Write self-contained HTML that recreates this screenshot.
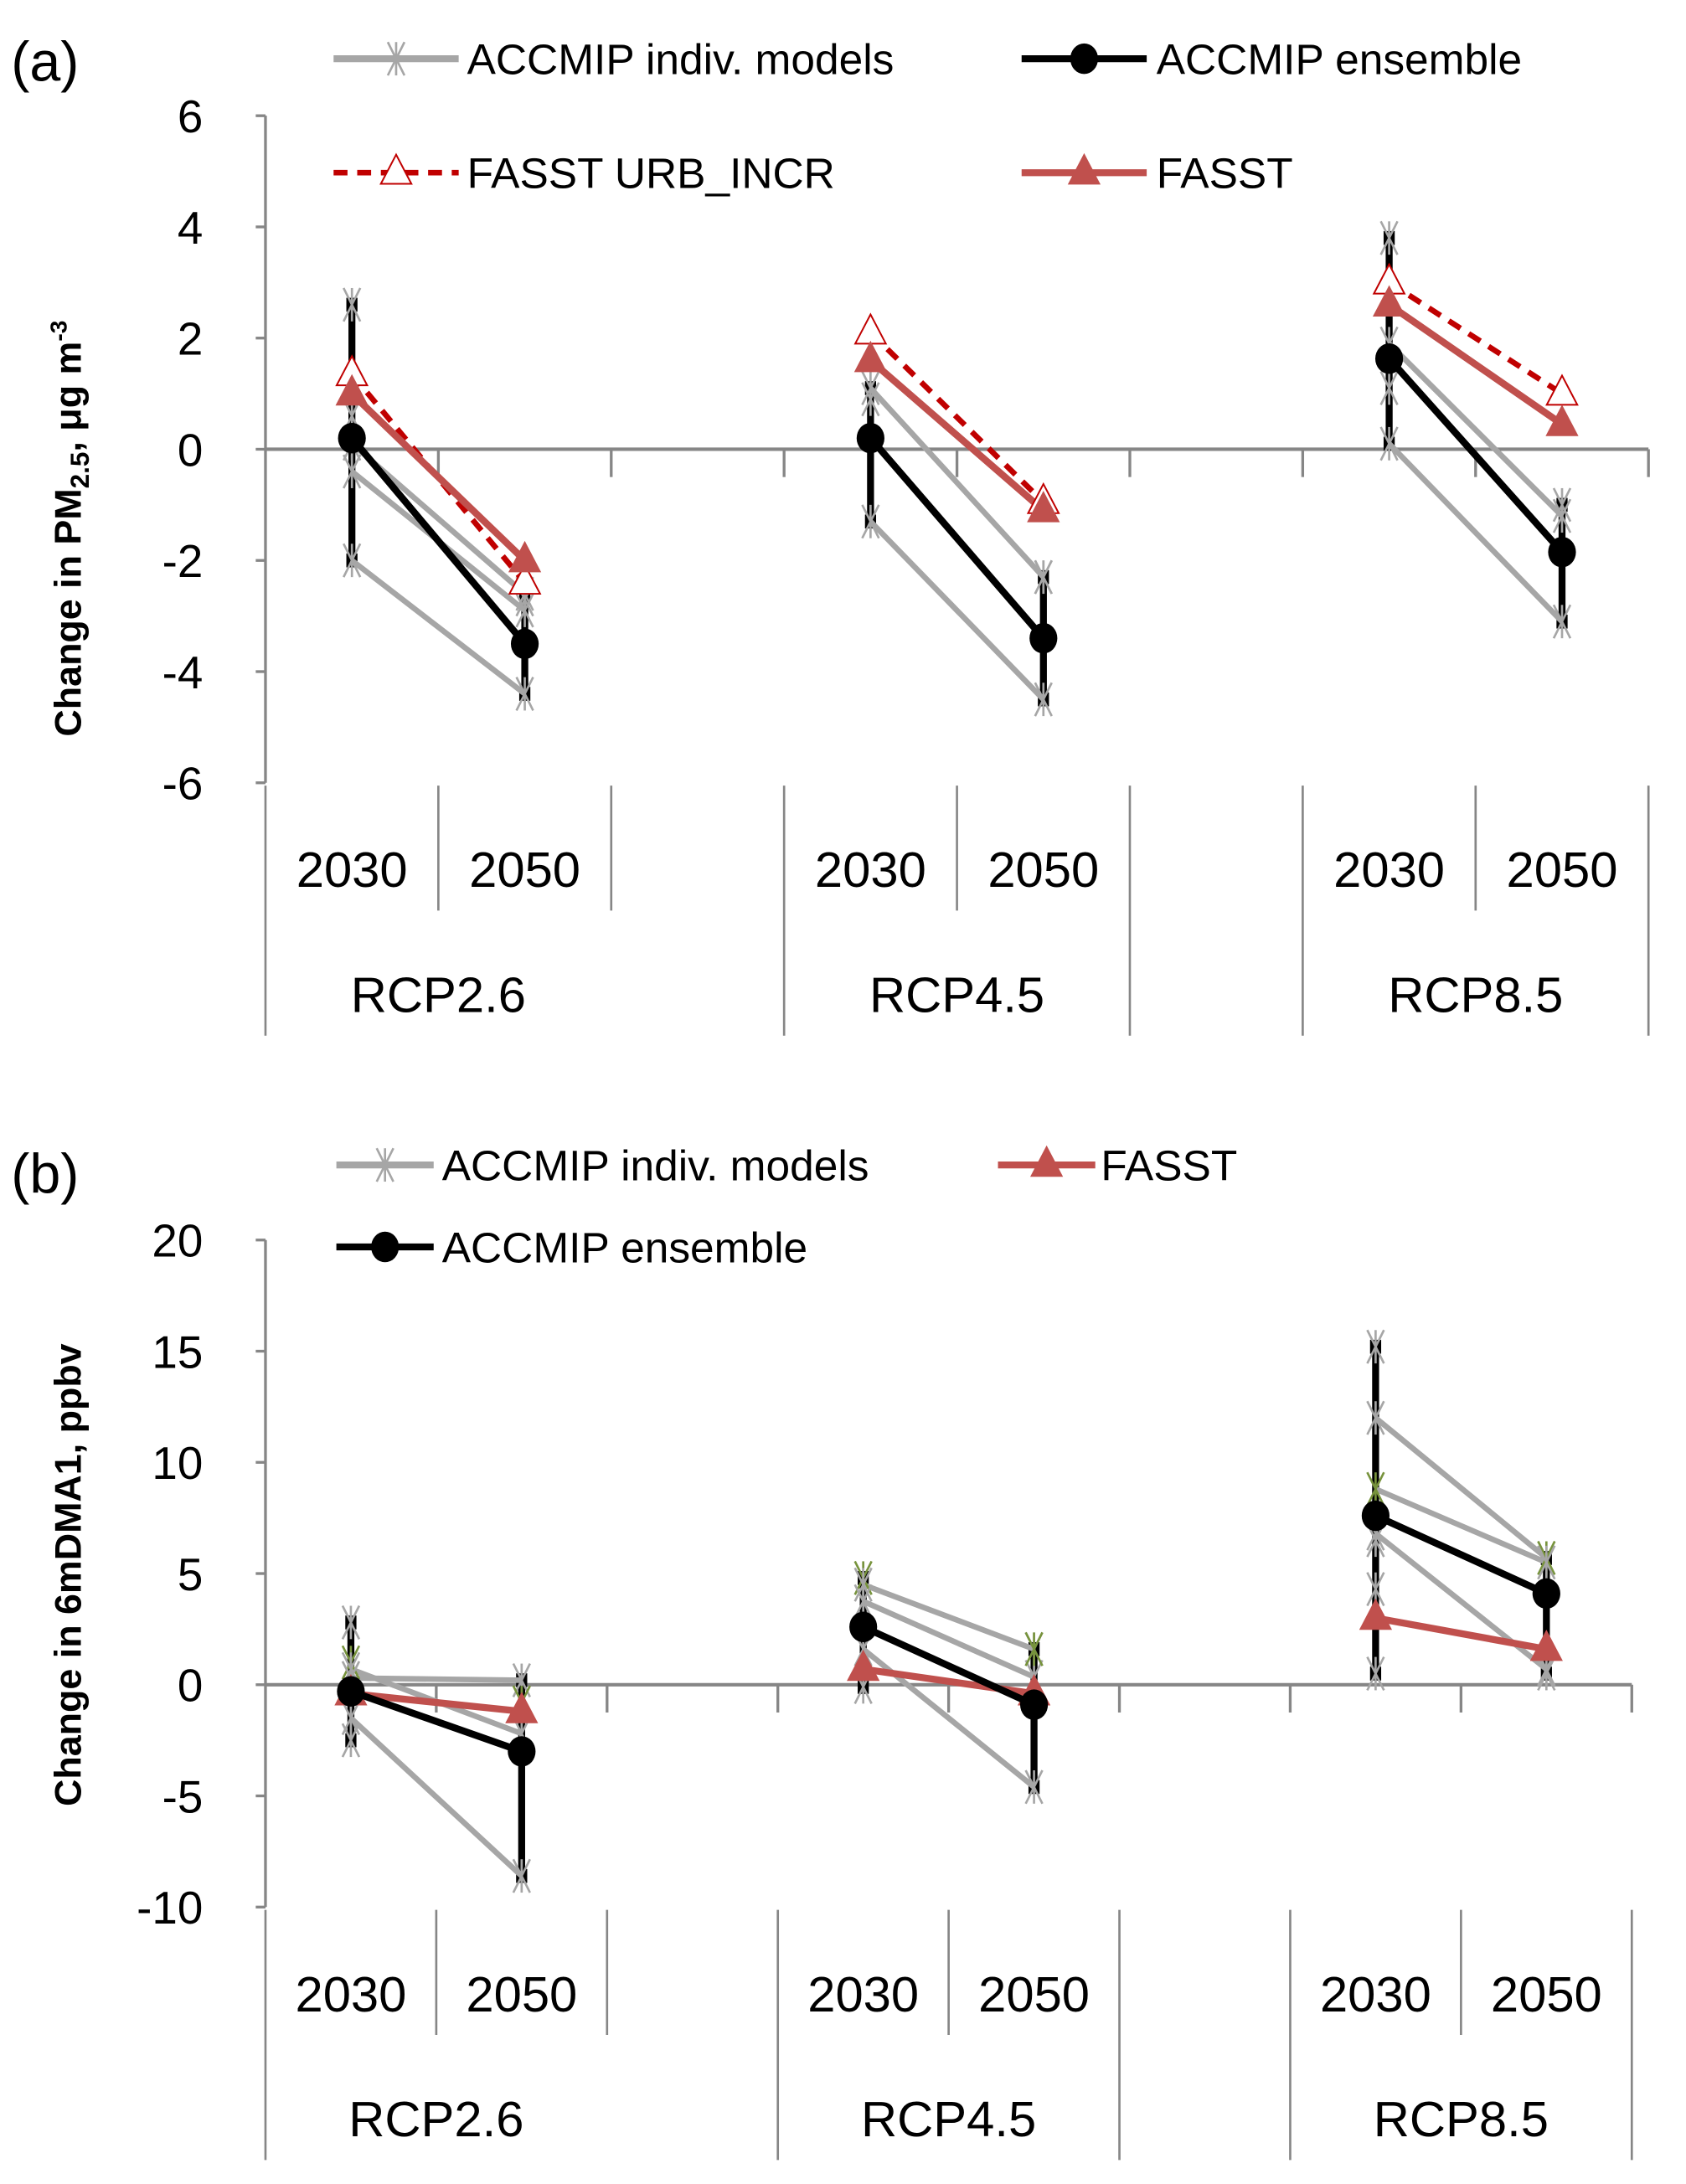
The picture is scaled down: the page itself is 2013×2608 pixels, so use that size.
<!DOCTYPE html>
<html><head><meta charset="utf-8"><style>
html,body{margin:0;padding:0;background:#fff}
svg{display:block}
text{font-family:"Liberation Sans",sans-serif;fill:#000}
</style></head><body>
<svg id="chart" width="2013" height="2608" viewBox="0 0 1213 1571" xmlns="http://www.w3.org/2000/svg">
<g id="pa"></g>
<g id="pb"></g>
</svg>
<script>
// ---- Panel A data (PM2.5, ug m-3) ----
const categories = ["2030","2050","","2030","2050","","2030","2050"];
const scenarios = ["RCP2.6","RCP4.5","RCP8.5"];
const ticksA = [6,4,2,0,-2,-4,-6];
// indiv models per scenario, paired by model (null = no value for that year)
const aModels2030 = [[2.6,0.6,0.1,-0.4,-2.0,null],[1.1,0.9,-1.3,null],[3.8,1.9,1.1,0.1,null]];
const aModels2050 = [[null,null,-2.6,-2.9,-4.4,-2.7],[-2.3,null,-4.5,-2.3],[null,-1.2,null,-3.1,-1.0]];
const aEnsemble2030 = [0.2,0.2,1.63];
const aEnsemble2050 = [-3.5,-3.4,-1.85];
const aFasst2030 = [1.0,1.6,2.6];
const aFasst2050 = [-2.0,-1.1,0.45];
const aUrb2030 = [1.35,2.1,3.0];
const aUrb2050 = [-2.4,-0.95,1.0];
// ---- Panel B data (6mDMA1, ppbv) ----
const ticksB = [20,15,10,5,0,-5,-10];
const bModels2030 = [[2.8,1.0,0.3,0.7,-1.5,-2.5,null],[4.8,4.5,3.75,1.6,-0.1,null],[15.2,12.0,8.8,6.8,6.5,4.3,0.5,null]];
const bModels2050 = [[null,null,0.2,-2.2,-8.6,null,-0.8],[null,1.6,0.35,-4.6,null,1.6],[null,5.7,5.5,0.7,null,null,null,0.5]];
const bGreen2030 = [1,0,2];
const bGreen2050 = [6,5,1];
const bEnsemble2030 = [-0.3,2.6,7.6];
const bEnsemble2050 = [-3.0,-0.9,4.1];
const bFasst2030 = [-0.4,0.7,3.0];
const bFasst2050 = [-1.2,-0.4,1.6];

const NS="http://www.w3.org/2000/svg";
function mk(parent,tag,attrs,txt){const e=document.createElementNS(NS,tag);for(const k in attrs)e.setAttribute(k,attrs[k]);if(txt!==undefined)e.textContent=txt;parent.appendChild(e);return e;}

function star(g,x,y,col){
  const s=mk(g,"g",{stroke:col||"#a6a6a6","stroke-width":1.6});
  
  
  mk(s,"line",{x1:x-6,y1:y-12,x2:x+6,y2:y+12});mk(s,"line",{x1:x+6,y1:y-12,x2:x-6,y2:y+12});mk(s,"line",{x1:x,y1:y-12,x2:x,y2:y+12});
}
function tri(g,x,y,filled){
  const t=mk(g,"polygon",{points:`${x},${y-13} ${x-11},${y+8} ${x+11},${y+8}`,fill:filled?"#c0504d":"#fff",stroke:filled?"#c0504d":"#c00000","stroke-width":filled?1:1.2});
  
  
}
function dot(g,x,y){const c=mk(g,"ellipse",{cx:x,cy:y,rx:10,ry:11,fill:"#000"});
  
  }

const isNum=v=>v!==null&&v!==undefined;
function panel(g,cfg){
  const {x0,x1,y0,yMax,yMin,ppu,ticks,models30,models50,ens30,ens50,f30,f50,u30,u50,g30,g50}=cfg;
  const X=i=>x0+(i+0.5)*(x1-x0)/8;
  const Y=v=>y0+(yMax-v)*ppu;
  const yZero=Y(0), yBot=Y(yMin);
  const ax=mk(g,"line",{x1:x0,y1:Y(yMax),x2:x0,y2:yBot,stroke:"#868686","stroke-width":2});
  
  ticks.forEach(t=>{
    mk(g,"line",{x1:x0-7,y1:Y(t),x2:x0,y2:Y(t),stroke:"#868686","stroke-width":2});
    const tl=mk(g,"text",{x:146,y:Y(t)+12,"text-anchor":"end","font-size":33},String(t));
    
  });
  const zl=mk(g,"line",{x1:x0,y1:yZero,x2:x1,y2:yZero,stroke:"#868686","stroke-width":2.5});
  
  const cw=(x1-x0)/8;
  for(let i=1;i<=8;i++){mk(g,"line",{x1:x0+i*cw,y1:yZero,x2:x0+i*cw,y2:yZero+20,stroke:"#868686","stroke-width":2});}
  const longIdx=[0,3,5,6,8];
  for(let i=0;i<=8;i++){
    const long=longIdx.includes(i);
    mk(g,"line",{x1:x0+i*cw,y1:yBot+2,x2:x0+i*cw,y2:yBot+(long?182:92),stroke:"#868686","stroke-width":1.6});
  }
  categories.forEach((c,i)=>{if(!c)return;
    const t=mk(g,"text",{x:X(i),y:yBot+75,"text-anchor":"middle","font-size":36},c);
    });
  scenarios.forEach((s,j)=>{
    const t=mk(g,"text",{x:(X(3*j)+X(3*j+1))/2,y:yBot+165,"text-anchor":"middle","font-size":36},s);
    });
  for(let j=0;j<3;j++){
    const xa=X(3*j), xb=X(3*j+1);
    const all30=models30[j].filter(isNum), all50=models50[j].filter(isNum);
    mk(g,"line",{x1:xa,y1:Y(Math.max(...all30)),x2:xa,y2:Y(Math.min(...all30)),stroke:"#000","stroke-width":5});
    mk(g,"line",{x1:xb,y1:Y(Math.max(...all50)),x2:xb,y2:Y(Math.min(...all50)),stroke:"#000","stroke-width":5});
    [[xa,all30],[xb,all50]].forEach(([x,arr])=>{[Math.max(...arr),Math.min(...arr)].forEach(v=>mk(g,"rect",{x:x-4,y:Y(v)-5,width:8,height:10,fill:"#000"}));});
    models30[j].forEach((v,k)=>{
      const w=models50[j][k];
      if(isNum(v)&&isNum(w)){
        const l=mk(g,"line",{x1:xa,y1:Y(v),x2:xb,y2:Y(w),stroke:"#a6a6a6","stroke-width":4});
        
      }
    });
    models30[j].forEach((v,k)=>{if(isNum(v))star(g,xa,Y(v),(g30&&g30[j]===k)?"#77933c":null);});
    models50[j].forEach((v,k)=>{if(isNum(v))star(g,xb,Y(v),(g50&&g50[j]===k)?"#77933c":null);});
    if(u30){const l=mk(g,"line",{x1:xa,y1:Y(u30[j]),x2:xb,y2:Y(u50[j]),stroke:"#c00000","stroke-width":4,"stroke-dasharray":"10,7"});
      }
    const fl=mk(g,"line",{x1:xa,y1:Y(f30[j]),x2:xb,y2:Y(f50[j]),stroke:"#c0504d","stroke-width":5});
    
    if(u30){tri(g,xa,Y(u30[j]),false);tri(g,xb,Y(u50[j]),false);}
    tri(g,xa,Y(f30[j]),true);tri(g,xb,Y(f50[j]),true);
    const el=mk(g,"line",{x1:xa,y1:Y(ens30[j]),x2:xb,y2:Y(ens50[j]),stroke:"#000","stroke-width":5});
    
    dot(g,xa,Y(ens30[j]));dot(g,xb,Y(ens50[j]));
  }
}
const pa=document.getElementById("pa"), pb=document.getElementById("pb");
panel(pa,{x0:191,x1:1186,y0:83,yMax:6,yMin:-6,ppu:40,ticks:ticksA,models30:aModels2030,models50:aModels2050,ens30:aEnsemble2030,ens50:aEnsemble2050,f30:aFasst2030,f50:aFasst2050,u30:aUrb2030,u50:aUrb2050});
panel(pb,{x0:191,x1:1174,y0:892,yMax:20,yMin:-10,ppu:16,ticks:ticksB,models30:bModels2030,models50:bModels2050,ens30:bEnsemble2030,ens50:bEnsemble2050,f30:bFasst2030,f50:bFasst2050,g30:bGreen2030,g50:bGreen2050});

function txt(g,x,y,size,s,name,extra){const t=mk(g,"text",Object.assign({x:x,y:y,"font-size":size},extra||{}),s);return t;}
txt(pa,8,58,40,"(a)","panel-a-label");
txt(pb,8,858,40,"(b)","panel-b-label");
const ta=txt(pa,0,0,27,"","y-axis-title",{transform:"translate(58,380) rotate(-90)","text-anchor":"middle","font-weight":"bold"});
ta.innerHTML='Change in PM<tspan font-size="19" dy="6">2.5</tspan><tspan dy="-6">, μg  m</tspan><tspan font-size="17" dy="-10">-3</tspan>';
txt(pb,0,0,27,"Change in 6mDMA1, ppbv","y-axis-title",{transform:"translate(58,1133) rotate(-90)","text-anchor":"middle","font-weight":"bold"});

function legend(g,x1,x2,y,type,label,tx){
  const lg=mk(g,"g",{});
  
  
  if(type==="model"){mk(lg,"line",{x1:x1,y1:y,x2:x2,y2:y,stroke:"#a6a6a6","stroke-width":5});star(lg,(x1+x2)/2,y);}
  if(type==="ens"){mk(lg,"line",{x1:x1,y1:y,x2:x2,y2:y,stroke:"#000","stroke-width":5});dot(lg,(x1+x2)/2,y);}
  if(type==="fasst"){mk(lg,"line",{x1:x1,y1:y,x2:x2,y2:y,stroke:"#c0504d","stroke-width":5});tri(lg,(x1+x2)/2,y,true);}
  if(type==="urb"){mk(lg,"line",{x1:x1,y1:y,x2:x2,y2:y,stroke:"#c00000","stroke-width":4,"stroke-dasharray":"10,7"});tri(lg,(x1+x2)/2,y,false);}
  mk(lg,"text",{x:tx,y:y+11,"font-size":31},label);
}
legend(pa,240,330,42,"model","ACCMIP  indiv. models",336);
legend(pa,735,825,42,"ens","ACCMIP  ensemble",832);
legend(pa,240,330,124,"urb","FASST URB_INCR",336);
legend(pa,735,825,124,"fasst","FASST",832);
legend(pb,242,312,838,"model","ACCMIP indiv. models",318);
legend(pb,718,788,838,"fasst","FASST",792);
legend(pb,242,312,897,"ens","ACCMIP ensemble",318);
</script>
</body></html>
